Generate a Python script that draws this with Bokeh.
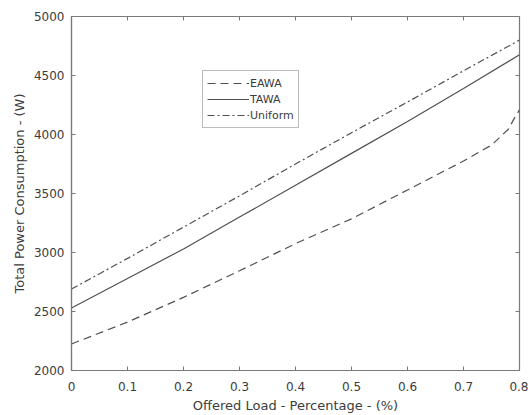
import math
from bokeh.plotting import figure
from bokeh.models import FixedTicker, Legend, LegendItem, Range1d
from bokeh.embed import file_html
from bokeh.resources import INLINE

# ---- data ----
load = [0.0, 0.1, 0.2, 0.3, 0.4, 0.5, 0.6, 0.7, 0.8]
uniform = [2690, 2950, 3215, 3480, 3750, 4015, 4275, 4540, 4800]
tawa = [2530, 2780, 3030, 3300, 3570, 3840, 4110, 4390, 4675]
eawa_load = [0.0, 0.1, 0.2, 0.3, 0.4, 0.5, 0.6, 0.7, 0.75, 0.78, 0.79, 0.8]
eawa = [2225, 2410, 2620, 2845, 3075, 3285, 3530, 3775, 3910, 4045, 4130, 4210]

x_ticks = [0.0, 0.1, 0.2, 0.3, 0.4, 0.5, 0.6, 0.7, 0.8]
x_tick_labels = ["0", "0.1", "0.2", "0.3", "0.4", "0.5", "0.6", "0.7", "0.8"]
y_ticks = [2000, 2500, 3000, 3500, 4000, 4500, 5000]
y_tick_labels = ["2000", "2500", "3000", "3500", "4000", "4500", "5000"]

x_label = "Offered Load - Percentage - (%)"
y_label = "Total Power Consumption - (W)"

FONT = "DejaVu Sans"
AX = "#7a7a7a"
TXT = "#3c3c3c"
LINE = "#505050"

x_min, x_max = x_ticks[0], x_ticks[-1]
y_min, y_max = y_ticks[0], y_ticks[-1]

p = figure(
    frame_width=448, frame_height=354,
    min_border_left=71, min_border_right=9, min_border_top=16, min_border_bottom=45,
    x_range=Range1d(x_min, x_max), y_range=Range1d(y_min, y_max),
    output_backend="svg", toolbar_location=None,
    background_fill_color="white", border_fill_color="white",
)
p.xgrid.visible = False
p.ygrid.visible = False
p.outline_line_color = AX
p.outline_line_width = 1.2

xb = p.xaxis[0]
yl = p.yaxis[0]
xb.ticker = FixedTicker(ticks=x_ticks)
yl.ticker = FixedTicker(ticks=y_ticks)
xb.major_label_overrides = {t: l for t, l in zip(x_ticks, x_tick_labels)}
yl.major_label_overrides = {t: l for t, l in zip(y_ticks, y_tick_labels)}
for ax in (xb, yl):
    ax.axis_line_color = AX
    ax.axis_line_width = 1.2
    ax.major_tick_line_color = AX
    ax.major_tick_in = 4
    ax.major_tick_out = 0
    ax.minor_tick_line_color = None
    ax.major_label_text_font = FONT
    ax.major_label_text_color = TXT
    ax.major_label_text_font_size = "12px"
    ax.axis_label_text_font = FONT
    ax.axis_label_text_font_size = "13px"
    ax.axis_label_text_font_style = "normal"
    ax.axis_label_text_color = TXT
xb.major_label_standoff = 11
yl.major_label_standoff = 7
xb.axis_label = x_label
yl.axis_label = y_label
xb.axis_label_standoff = 4
yl.axis_label_standoff = 4

# inward ticks on the top and right edges of the box (half of each dash is clipped)
p.scatter(x_ticks, [y_max] * len(x_ticks), marker="dash", size=8, angle=math.pi / 2,
          line_color=AX, line_width=1)
p.scatter([x_max] * len(y_ticks), y_ticks, marker="dash", size=8,
          line_color=AX, line_width=1)

r_e = p.line(eawa_load, eawa, line_color=LINE, line_width=1.2, line_dash="8 5")
r_t = p.line(load, tawa, line_color=LINE, line_width=1.2)
r_u = p.line(load, uniform, line_color=LINE, line_width=1.2, line_dash="7 3 2 3")

legend = Legend(
    items=[LegendItem(label="EAWA", renderers=[r_e]),
           LegendItem(label="TAWA", renderers=[r_t]),
           LegendItem(label="Uniform", renderers=[r_u])],
    location=(131, 242),
    label_text_font=FONT, label_text_font_size="11px", label_text_color=TXT,
    glyph_width=42, glyph_height=16, label_height=16, label_standoff=1,
    spacing=0, padding=4, margin=0,
    border_line_color=AX, border_line_width=1,
    background_fill_color="white", background_fill_alpha=1,
)
p.add_layout(legend, "center")

open("out.html", "w").write(file_html(p, INLINE))
